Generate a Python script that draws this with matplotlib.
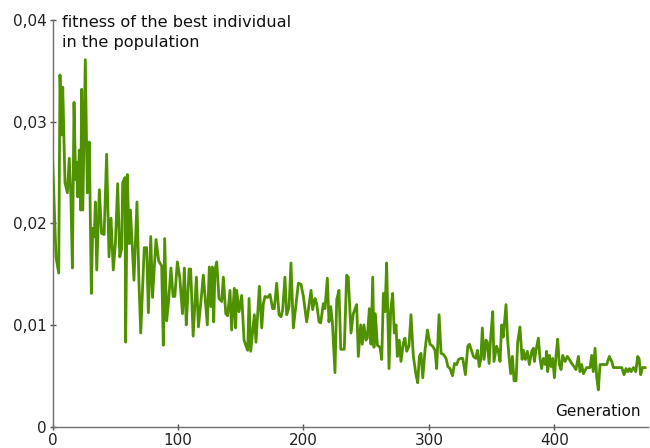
import matplotlib
matplotlib.use("Agg")
import matplotlib.pyplot as plt
from matplotlib.ticker import FuncFormatter

generation = [0, 2.6, 4.8, 5.8, 7.2, 8, 9.8, 11.7, 13.2, 14.5, 15.7, 17, 18.3, 19, 20, 21.2, 22.3, 23.1, 24, 26,
              27.6, 29.2, 30.8, 31.9, 33.2, 34, 35.1, 37.2, 39, 41, 43, 44.9, 46.5, 48.3, 50, 51.8, 53.5, 55, 55.8, 57.6,
              58.2, 59.5, 61, 62, 64.8, 67.2, 68.8, 70.2, 73, 74.9, 76.3, 78.2, 79.6, 82.4, 84.5, 86.9, 88.2, 89.3, 90.9, 92.3,
              94.3, 96, 97.4, 99.4, 101.3, 103.5, 105, 106.5, 107.6, 108.8, 110, 112, 114.6, 116.2,
              118.8, 120.1, 123.3, 124.9, 126.2, 127.3, 128.4, 129.4, 130.8, 132.6, 134.8, 136.1, 138, 139.5, 141.4, 142.7,
              144.8, 145.9, 146.7, 148.6, 150.7, 152.6, 154.2, 155.5, 156.6, 157.9, 160.8, 162.1, 164.8, 166.7, 168, 169.3,
              171.4, 173.3, 175.4, 176.7, 178.6, 180.5, 182.1, 183.4, 185.2, 186.6, 188.5, 190, 191.9, 193.8, 195.9, 198,
              199.9, 202.5, 203.9, 206, 207.3, 209.2, 210.5, 212.4, 213.7, 215.8, 217.1, 219, 220.3, 221.7, 223, 225.1,
              226.5, 228.3, 229.7, 232.5,
              234.4, 235.7, 237.9, 239.7, 242.4, 243.7, 245.6, 246.9, 248.2, 249.8, 250.9, 252.5, 253.8, 255.2, 256.2, 257.3,
              258.9, 261, 262.4, 263.7, 265, 266.3, 268.2, 269.5, 271.1, 272.4, 273.8, 274.8, 276.4, 277.7, 279.6, 280.9,
              282.3, 284.1, 285.7, 287.6, 289.7, 291.1, 292.4, 293.7, 295.1, 296.9, 298.8, 300.9, 303, 304.9, 306.2, 308.1,
              309.7, 311.6, 313.7, 315.1, 316.9, 318.8, 320.4, 322.2, 323.6, 325.4, 327, 329.1, 331, 332.3, 334.2, 335.5,
              337.4, 338.7, 340.1, 341.4, 342.6, 344, 345.6, 346.6, 348, 349.3, 350.9,
              351.9, 354, 355.4, 356.7, 358, 359.3, 361.5, 362.8, 363.9, 365.2, 366.6, 367.9, 369.5, 370.8, 372.6, 374.3,
              375.3, 376.9, 378.5, 380.1, 382, 383.3, 384.1, 385.4, 387.3, 388.6, 389.9, 391.3, 392.9, 393.9, 394.7, 396.1,
              397.4, 398.7, 400.1, 401.4, 402.7, 404, 405.4, 406.7, 408.6, 410.4, 412, 413.9, 415.7, 417.3, 419.2, 420.5,
              421.8, 423.2, 425.8, 428.5, 429.8, 431.1, 432.5, 433.8, 435.1, 436.5, 441.8, 443.9, 445.8, 447.1, 453.8, 455.6,
              457.2, 458.6, 459.9, 461.2, 463.1, 465, 466.5, 467.6, 468.9, 470.3, 472.4]

fitness = [0.0262, 0.0167, 0.0151, 0.0346, 0.0287, 0.0334, 0.0240, 0.0230, 0.0264, 0.0226, 0.0156, 0.0319, 0.0243, 0.0260, 0.0226, 0.0272, 0.0213, 0.0332, 0.0213, 0.0361,
           0.0230, 0.0280, 0.0131, 0.0195, 0.0187, 0.0221, 0.0154, 0.0233, 0.0190, 0.0189, 0.0268, 0.0167, 0.0205, 0.0154, 0.0180, 0.0239, 0.0167, 0.0175, 0.0240, 0.0245,
           0.0083, 0.0248, 0.0180, 0.0213, 0.0144, 0.0221, 0.0141, 0.0092, 0.0176, 0.0176, 0.0112, 0.0187, 0.0127, 0.0184, 0.0163, 0.0158, 0.0080, 0.0185, 0.0104, 0.0122,
           0.0156, 0.0128, 0.0128, 0.0162, 0.0147, 0.0111, 0.0156, 0.0100, 0.0125, 0.0155, 0.0155, 0.0089, 0.0147, 0.0098,
           0.0131, 0.0149, 0.0100, 0.0157, 0.0118, 0.0157, 0.0103, 0.0154, 0.0162, 0.0126, 0.0123, 0.0147, 0.0111, 0.0109, 0.0134, 0.0095,
           0.0136, 0.0097, 0.0134, 0.0113, 0.0129, 0.0085, 0.0079, 0.0075, 0.0126, 0.0074, 0.0110, 0.0083, 0.0138, 0.0097, 0.0121, 0.0128,
           0.0127, 0.0130, 0.0116, 0.0116, 0.0141, 0.0110, 0.0108, 0.0115, 0.0147, 0.0110, 0.0118, 0.0161, 0.0097, 0.0118, 0.0141, 0.0140,
           0.0128, 0.0103, 0.0115, 0.0134, 0.0115, 0.0126, 0.0121, 0.0103, 0.0102, 0.0121, 0.0116, 0.0146, 0.0103, 0.0118, 0.0103, 0.0053,
           0.0125, 0.0134, 0.0076, 0.0076,
           0.0149, 0.0147, 0.0092, 0.0111, 0.0120, 0.0069, 0.0100, 0.0081, 0.0100, 0.0085, 0.0087, 0.0116, 0.0081, 0.0147, 0.0078, 0.0111,
           0.0080, 0.0078, 0.0066, 0.0131, 0.0113, 0.0161, 0.0057, 0.0114, 0.0131, 0.0092, 0.0100, 0.0069, 0.0085, 0.0064, 0.0082, 0.0087,
           0.0074, 0.0079, 0.0110, 0.0069, 0.0051, 0.0043, 0.0069, 0.0072, 0.0048, 0.0075, 0.0095, 0.0081, 0.0079, 0.0075, 0.0057, 0.0110,
           0.0072, 0.0071, 0.0067, 0.0059, 0.0057, 0.0050, 0.0062, 0.0061, 0.0066, 0.0067, 0.0067, 0.0051, 0.0079, 0.0081, 0.0074, 0.0069,
           0.0067, 0.0075, 0.0059, 0.0066, 0.0097, 0.0066, 0.0085, 0.0083, 0.0062, 0.0088, 0.0113,
           0.0064, 0.0079, 0.0074, 0.0064, 0.0100, 0.0088, 0.0120, 0.0085, 0.0069, 0.0052, 0.0069, 0.0045, 0.0045, 0.0083, 0.0098, 0.0066,
           0.0075, 0.0066, 0.0074, 0.0061, 0.0074, 0.0077, 0.0064, 0.0075, 0.0087, 0.0067, 0.0057, 0.0067, 0.0061, 0.0074, 0.0054, 0.0070,
           0.0059, 0.0067, 0.0048, 0.0070, 0.0086, 0.0061, 0.0056, 0.0070, 0.0064, 0.0069, 0.0066, 0.0062, 0.0059, 0.0056, 0.0069, 0.0054,
           0.0061, 0.0052, 0.0058, 0.0058, 0.0070, 0.0054, 0.0077, 0.0049, 0.0036, 0.0061, 0.0061, 0.0069, 0.0064, 0.0058, 0.0058, 0.0051,
           0.0057, 0.0054, 0.0057, 0.0054, 0.0058, 0.0054, 0.0069, 0.0067, 0.0051, 0.0058, 0.0058]

x_ticks = [0, 100, 200, 300, 400]
y_ticks = [0, 0.01, 0.02, 0.03, 0.04]
y_label = "fitness of the best individual\nin the population"
x_label = "Generation"

fig = plt.figure(figsize=(6.5, 4.48), dpi=100)
ax = fig.add_axes([52.7 / 650, 21.5 / 448, (648 - 52.7) / 650, 406.4 / 448])
ax.plot(generation, fitness, color="#509100", lw=2.0, solid_joinstyle="round")

ax.set_xlim(0, (648 - 52.7) / 1.254)
ax.set_ylim(0, 0.04)
ax.set_xticks(x_ticks)
ax.set_yticks(y_ticks)


def comma_fmt(v, pos):
    if abs(v) < 1e-12:
        return "0"
    return f"{v:.2f}".replace(".", ",")


ax.yaxis.set_major_formatter(FuncFormatter(comma_fmt))
for s in ["top", "right"]:
    ax.spines[s].set_visible(False)
for s in ["left", "bottom"]:
    ax.spines[s].set_color("#707070")
    ax.spines[s].set_linewidth(1.0)
ax.tick_params(direction="inout", length=5, width=1, color="#505050",
               labelsize=11, labelcolor="#222222", pad=2)

fig.text(62 / 650, 1 - 15 / 448, y_label, fontsize=11.6, color="#111111",
         va="top", ha="left", linespacing=1.4)
fig.text(641 / 650, 1 - 416 / 448, x_label, fontsize=11, color="#111111", ha="right", va="baseline")

fig.savefig("out.png", dpi=100)
